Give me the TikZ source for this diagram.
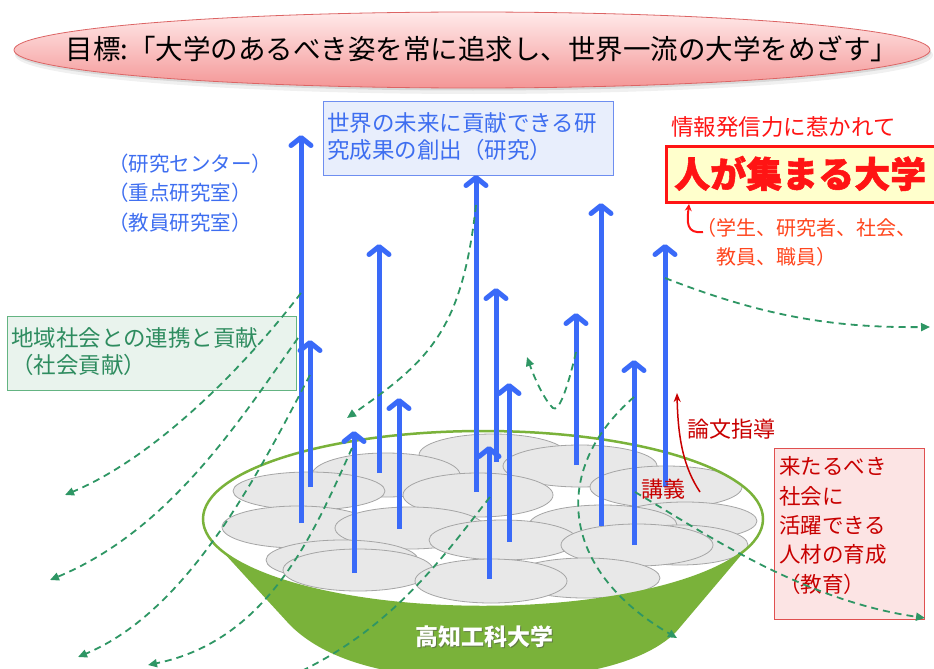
\documentclass[tikz,border=0pt]{standalone}
\usepackage{fontspec}
\setmainfont{Noto Sans CJK JP}
\newfontfamily\heavyjp[BoldFeatures={FakeBold=1.5}]{Noto Sans CJK JP}
\usetikzlibrary{arrows.meta}

\definecolor{arrowblue}{RGB}{58,106,248}
\definecolor{textblue}{RGB}{62,110,240}
\definecolor{dashgreen}{RGB}{46,150,100}
\definecolor{textgreen}{RGB}{46,140,95}
\definecolor{boxgreenfill}{RGB}{233,243,237}
\definecolor{boxgreenline}{RGB}{100,180,130}
\definecolor{bowlgreen}{RGB}{122,178,58}
\definecolor{cellfill}{RGB}{232,232,232}
\definecolor{cellline}{RGB}{165,165,165}
\definecolor{darkred}{RGB}{200,0,0}
\definecolor{brightred}{RGB}{255,20,20}
\definecolor{orangered}{RGB}{255,70,30}
\definecolor{pinkfill}{RGB}{252,228,228}
\definecolor{pinkline}{RGB}{224,80,80}
\definecolor{bluefill}{RGB}{232,238,252}
\definecolor{blueline}{RGB}{110,142,240}
\definecolor{yellowfill}{RGB}{255,255,204}
\definecolor{titletop}{RGB}{255,234,234}
\definecolor{titlebottom}{RGB}{244,150,150}
\definecolor{titleline}{RGB}{220,100,100}

\begin{document}
\begin{tikzpicture}[x=1pt,y=-1pt,
  growth/.style={line width=5pt, draw=arrowblue,
    -{Straight Barb[length=8pt,width=20pt,round]}},
  flow/.style={draw=dashgreen, line width=1.8pt, dash pattern=on 7pt off 5pt,
    -{Triangle[length=9pt,width=8pt,fill=dashgreen]}},
  cell/.style={fill=cellfill, draw=cellline, line width=0.8pt},
  label/.style={inner sep=0pt, anchor=west, align=left},
  panel/.style={anchor=north west, inner sep=0pt}]
\useasboundingbox (0,0) rectangle (934,669);

% ---------- goal banner ----------
\fill[black,opacity=0.06] (474,55) ellipse [x radius=459pt, y radius=39pt];
\fill[black,opacity=0.10] (473,52.5) ellipse [x radius=458pt, y radius=38pt];
\shadedraw[top color=titletop, bottom color=titlebottom, draw=titleline, line width=0.8pt]
  (472,50) ellipse [x radius=458pt, y radius=38pt];
\node[inner sep=0pt, font=\fontsize{27.5}{30}\selectfont] (goal) at (482,49)
  {目標:「大学のあるべき姿を常に追求し、世界一流の大学をめざす」};

% ---------- research ----------
\node[panel, draw=blueline, fill=bluefill, line width=1pt,
  minimum width=290pt, minimum height=74pt] (researchbox) at (323,101) {};
\node[label, text=textblue, font=\fontsize{22.5}{27}\selectfont] (researchtext) at (327,136.5)
  {世界の未来に貢献できる研\\究成果の創出（研究）};
\node[label, text=textblue, font=\fontsize{20.5}{29.5}\selectfont] (labs) at (108,193)
  {（研究センター）\\（重点研究室）\\（教員研究室）};

% ---------- social contribution ----------
\node[panel, draw=boxgreenline, fill=boxgreenfill, line width=1pt,
  minimum width=289pt, minimum height=74pt] (socialbox) at (7,316) {};
\node[label, text=textgreen, font=\fontsize{22.5}{27}\selectfont] (socialtext) at (11,351.5)
  {地域社会との連携と貢献\\（社会貢献）};

% ---------- attraction ----------
\node[label, text=brightred, font=\fontsize{22.5}{26}\selectfont] (inform) at (671,127)
  {情報発信力に惹かれて};
\node[panel, draw=brightred, fill=yellowfill, line width=3pt,
  minimum width=290pt, minimum height=56pt] (gatherbox) at (665,145) {};
\node[label, text=brightred, font=\heavyjp\bfseries\fontsize{36}{40}\selectfont] (gather) at (674,173.5)
  {人が集まる大学};
\node[label, text=orangered, font=\fontsize{20}{29}\selectfont] (people) at (696,242)
  {（学生、研究者、社会、\\\hspace*{1em}教員、職員）};

% ---------- education ----------
\node[panel, draw=pinkline, fill=pinkfill, line width=1pt,
  minimum width=150pt, minimum height=171pt] (edubox) at (774,448) {};
\node[label, text=darkred, font=\fontsize{21.5}{29.3}\selectfont] (edutext) at (779,525.5)
  {来たるべき\\社会に\\活躍できる\\人材の育成\\（教育）};
\node[label, text=darkred, font=\fontsize{22}{26}\selectfont] (thesis) at (687,429) {論文指導};

% ---------- the university bowl ----------
\fill[bowlgreen] (203,519) -- (212,540) -- (290,625)
  .. controls (330,665) and (400,678) .. (483,680)
  .. controls (560,680) and (640,668) .. (676,632)
  -- (748,547) -- (764,519) -- cycle;
\fill[white] (483,519) ellipse [x radius=280pt, y radius=88pt];
\begin{scope}
  \clip (483,519) ellipse [x radius=279pt, y radius=87pt];
  \foreach \cx/\cy/\rx/\ry in {
      493/455/74/21, 580/466/77/21, 386/475/74/22, 666/487/76/21,
      309/491/76/19, 478/495/75/22, 685/521/72/19, 603/525/74/20,
      298/527/76/21, 410/528/75/21, 503/540/74/20, 680/545/68/20,
      637/545/76/21, 342/560/76/20, 358/570/75/21, 585/578/75/20,
      491/581/76/22}
    \draw[cell] (\cx,\cy) ellipse [x radius=\rx pt, y radius=\ry pt];
\end{scope}
\draw[bowlgreen, line width=2.5pt] (483,519) ellipse [x radius=280pt, y radius=88pt];
\node[text=black!70, opacity=0.55, font=\bfseries\fontsize{23}{26}\selectfont] (kutshadow) at (485,638) {高知工科大学};
\node[text=white, font=\bfseries\fontsize{23}{26}\selectfont] (kut) at (484,636.5) {高知工科大学};

% ---------- growth arrows ----------
\foreach \i/\x/\yb/\yt in {
    1/301/523/135, 2/310/487/340, 3/379/473/244, 4/399/529/398,
    5/354/573/431, 6/476/492/175, 7/496/462/288, 8/509/542/383,
    9/489/579/446, 10/576/465/313, 11/601/526/203, 12/634/545/360,
    13/665/487/244}
{
  \coordinate (base\i) at (\x,\yb);
  \coordinate (tip\i) at (\x,\yt);
  \draw[growth] (base\i) -- (tip\i);
}
\node[label, text=darkred, font=\fontsize{22}{26}\selectfont] (lecture) at (641,489) {講義};

% ---------- outward flows ----------
\coordinate (f1s) at (301,293);  \coordinate (f1e) at (65,495);
\coordinate (f2s) at (298,338);  \coordinate (f2e) at (50,580);
\coordinate (f3s) at (310,375);  \coordinate (f3e) at (78,657);
\coordinate (f4s) at (352,448);  \coordinate (f4e) at (148,665);
\coordinate (f5s) at (490,497);  \coordinate (f5e) at (240,695);
\coordinate (f6s) at (476,205);  \coordinate (f6e) at (347,418);
\coordinate (f7s) at (576,352);  \coordinate (f7m) at (553,408); \coordinate (f7e) at (527,357);
\coordinate (f8s) at (634,397);  \coordinate (f8e) at (677,638);
\coordinate (f9s) at (635,492);  \coordinate (f9e) at (925,618);
\coordinate (f10s) at (665,278); \coordinate (f10e) at (930,327);

\draw[flow] (f1s) .. controls (250,360) and (160,455) .. (f1e);
\draw[flow] (f2s) .. controls (240,420) and (170,530) .. (f2e);
\draw[flow] (f3s) .. controls (260,470) and (190,610) .. (f3e);
\draw[flow] (f4s) .. controls (315,530) and (270,640) .. (f4e);
\draw[flow] (f5s) .. controls (440,560) and (380,650) .. (f5e);
\draw[flow] (f6s) .. controls (462,330) and (430,360) .. (f6e);
\draw[flow] (f7s) .. controls (566,395) and (558,412) .. (f7m)
  .. controls (547,403) and (537,385) .. (f7e);
\draw[flow] (f8s) .. controls (550,470) and (560,570) .. (f8e);
\draw[flow] (f9s) .. controls (700,530) and (800,600) .. (f9e);
\draw[flow] (f10s) .. controls (760,315) and (830,328) .. (f10e);

% ---------- red pointers ----------
\coordinate (hookstart) at (703,232);
\draw[brightred, line width=2pt, -{Stealth[length=7pt,width=7pt]}]
  (hookstart) .. controls (686,234) and (687,222) .. (gatherbox.south west -| 689,0);
\coordinate (lecturestart) at (700,492);
\coordinate (thesistip) at (677,393);
\draw[darkred, line width=1.5pt, -{Stealth[length=9pt,width=7pt]}]
  (lecturestart) .. controls (684,468) and (678,440) .. (thesistip);
\end{tikzpicture}
\end{document}
